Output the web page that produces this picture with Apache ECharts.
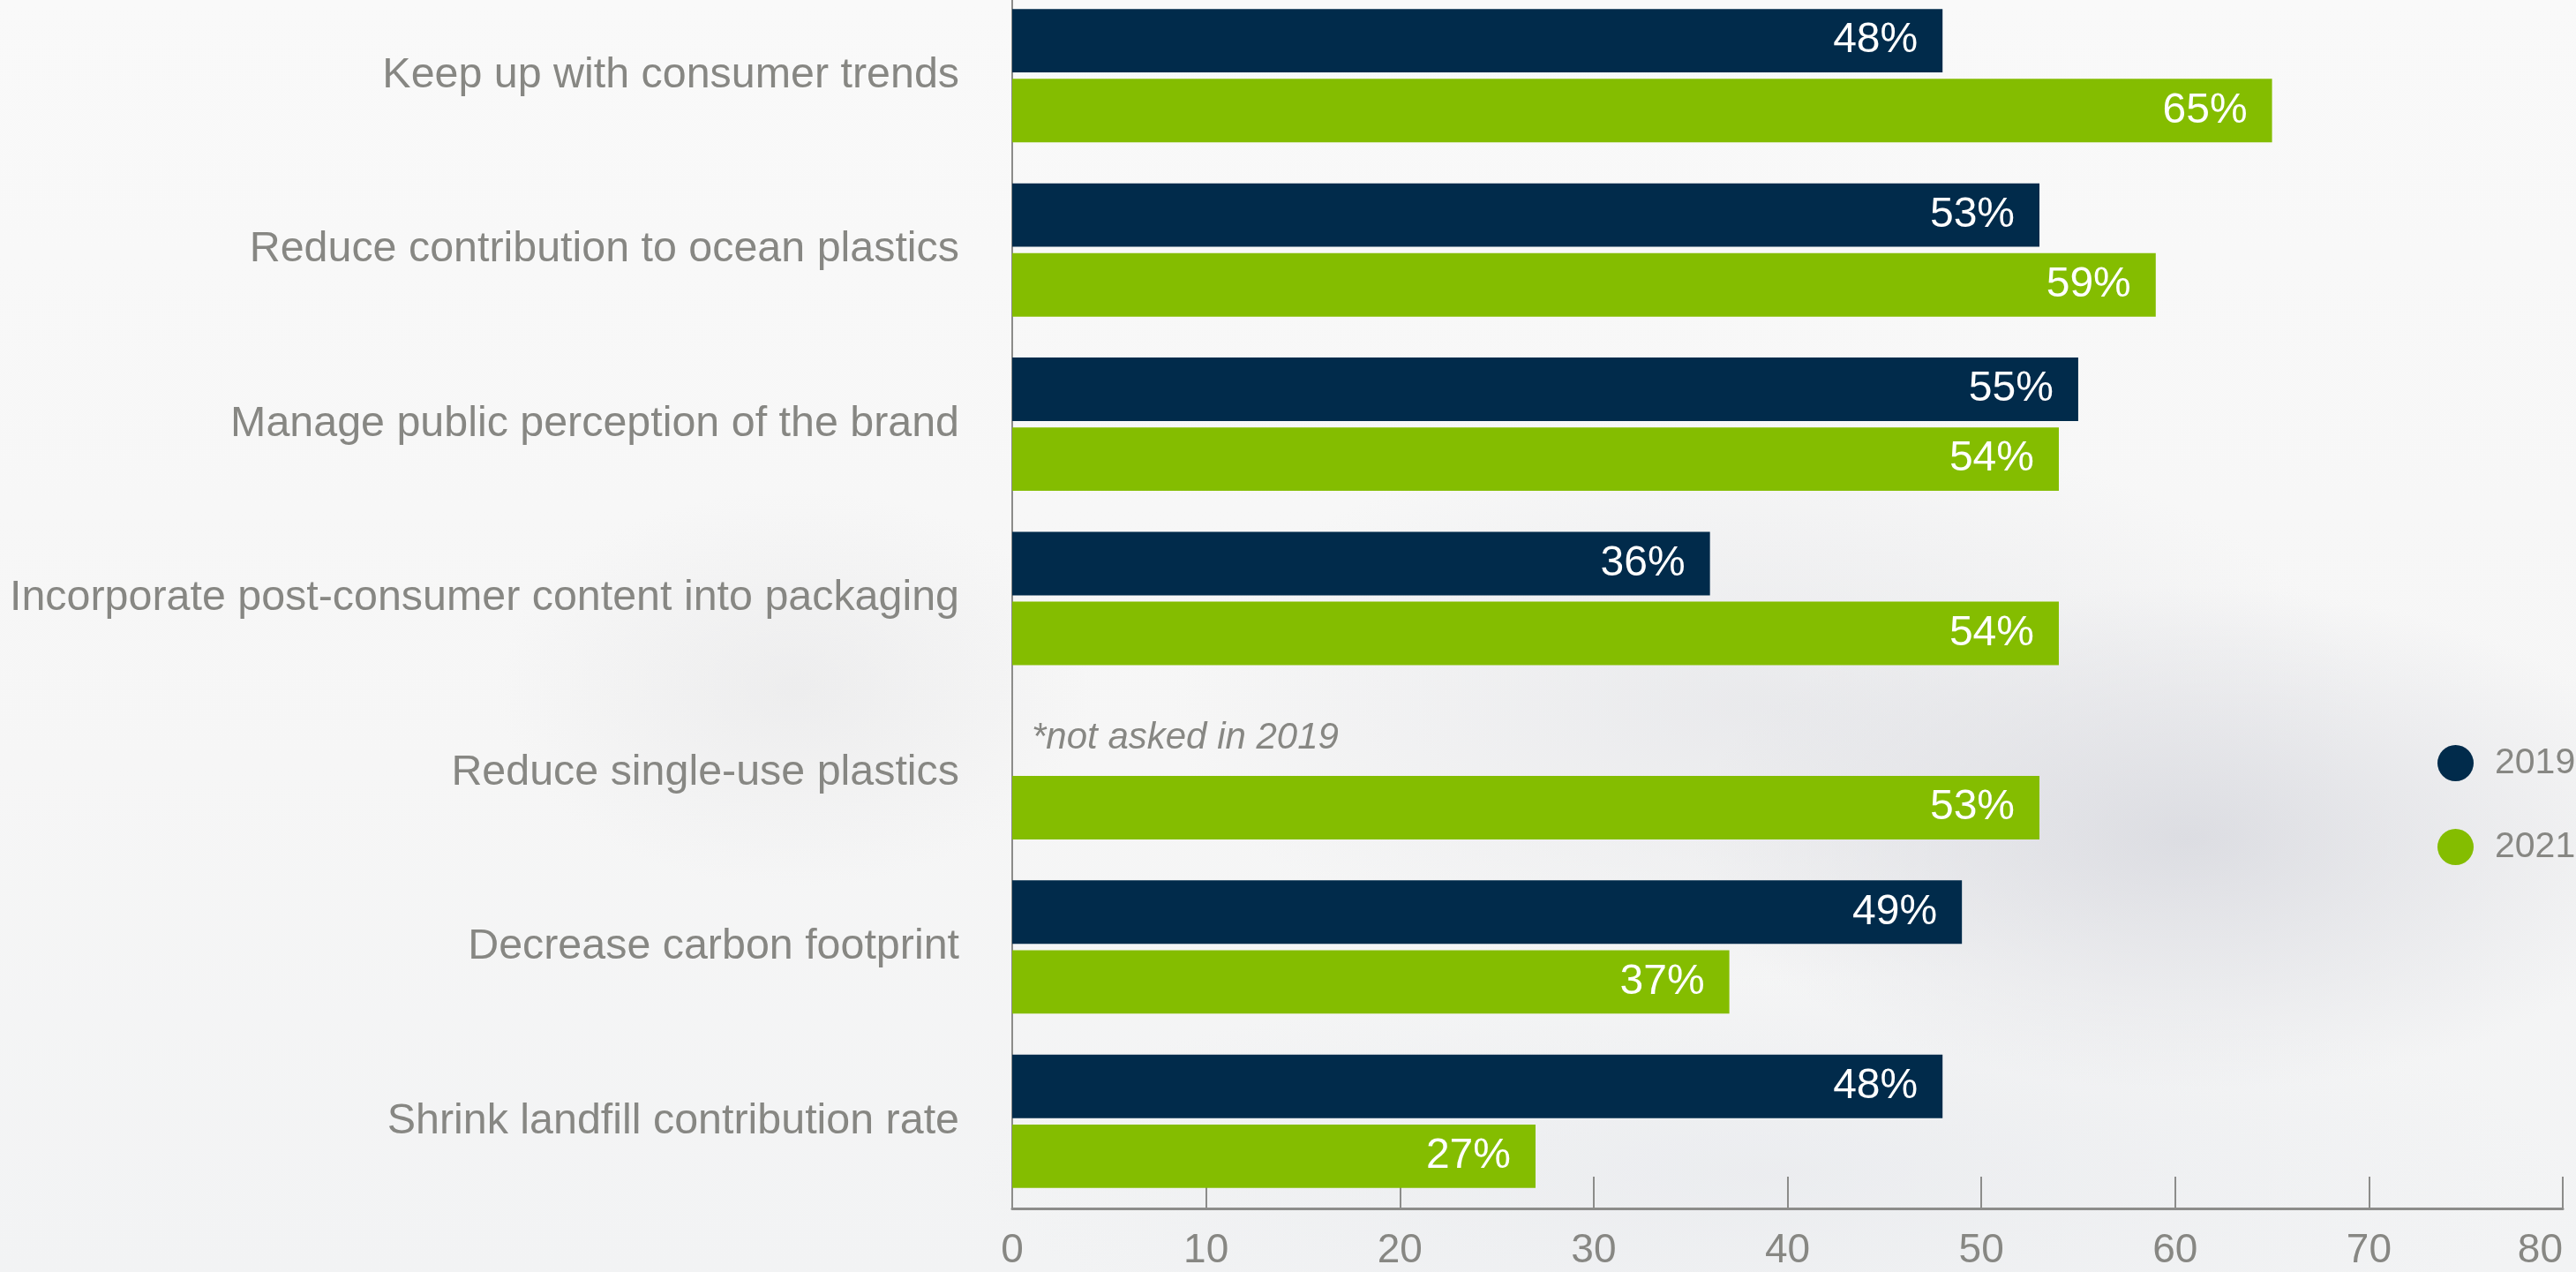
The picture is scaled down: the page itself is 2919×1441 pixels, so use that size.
<!DOCTYPE html>
<html>
<head>
<meta charset="utf-8">
<script src="https://cdn.jsdelivr.net/npm/echarts@6/dist/echarts.min.js"></script>
<style>
html,body{margin:0;padding:0;width:2919px;height:1441px;overflow:hidden;position:relative;}
body{background:
 radial-gradient(ellipse 750px 380px at 2480px 950px, rgba(216,217,223,0.85), rgba(216,217,223,0) 75%),
 radial-gradient(ellipse 900px 420px at 2000px 800px, rgba(224,225,229,0.6), rgba(224,225,229,0) 75%),
 radial-gradient(ellipse 450px 300px at 900px 780px, rgba(220,220,222,0.35), rgba(220,220,222,0) 75%),
 radial-gradient(ellipse 1200px 300px at 2000px 1330px, rgba(230,232,236,0.6), rgba(230,232,236,0) 75%),
 linear-gradient(180deg,#f9f9f9 0%,#f6f6f6 60%,#f2f3f4 100%);}
#chart{position:absolute;left:0;top:-13px;width:2919px;height:1454px;}
</style>
</head>
<body>
<div id="chart"></div>
<script>
const categories = [
  'Keep up with consumer trends',
  'Reduce contribution to ocean plastics',
  'Manage public perception of the brand',
  'Incorporate post-consumer content into packaging',
  'Reduce single-use plastics',
  'Decrease carbon footprint',
  'Shrink landfill contribution rate'
];
const values2019 = [48, 53, 55, 36, null, 49, 48];
const values2021 = [65, 59, 54, 54, 53, 37, 27];
const seriesNames = ['2019', '2021'];
const notAskedNote = '*not asked in 2019';
const xTicks = [0, 10, 20, 30, 40, 50, 60, 70, 80];

const FONT = '"Liberation Sans", Arial, Helvetica, sans-serif';
const GRAY = '#878783';

const data2019 = values2019.map(v => v === null
  ? { value: 0, label: { show: true, position: 'right', distance: 22, formatter: notAskedNote,
      color: GRAY, fontStyle: 'italic', fontSize: 42, fontFamily: FONT, padding: [6,0,0,0] } }
  : v);

const chart = echarts.init(document.getElementById('chart'));
chart.setOption({
  backgroundColor: 'transparent',
  animation: false,
  grid: { left: 1147, right: 15, top: 0, bottom: 72, containLabel: false },
  legend: {
    data: seriesNames,
    orient: 'vertical',
    left: 2757, top: 852,
    icon: 'circle',
    itemWidth: 41, itemHeight: 41, itemGap: 54,
    textStyle: { color: GRAY, fontSize: 41, fontFamily: FONT, padding: [0,0,0,19] }
  },
  xAxis: {
    type: 'value',
    min: xTicks[0], max: xTicks[xTicks.length - 1], interval: 10,
    splitLine: { show: false },
    axisLine: { show: true, lineStyle: { color: '#8c8c8a', width: 3 } },
    axisTick: { show: true, inside: true, length: 36, lineStyle: { color: '#8c8c8a', width: 2 } },
    axisLabel: { color: GRAY, fontSize: 46, fontFamily: FONT, margin: 25, alignMaxLabel: 'right' }
  },
  yAxis: {
    type: 'category',
    data: categories,
    inverse: true,
    axisLine: { show: true, lineStyle: { color: '#8c8c8a', width: 2 } },
    axisTick: { show: false },
    axisLabel: { color: GRAY, fontSize: 48.4, fontFamily: FONT, margin: 60 }
  },
  series: [
    {
      name: seriesNames[0], type: 'bar', data: data2019,
      itemStyle: { color: '#012b4b' },
      barGap: '10%', barCategoryGap: '23.5%',
      label: { show: true, position: 'insideRight', distance: 28, color: '#ffffff',
        fontSize: 48, fontFamily: FONT, padding: [6,0,0,0], formatter: p => p.value + '%' }
    },
    {
      name: seriesNames[1], type: 'bar', data: values2021,
      itemStyle: { color: '#84bd00' },
      barGap: '10%', barCategoryGap: '23.5%',
      label: { show: true, position: 'insideRight', distance: 28, color: '#ffffff',
        fontSize: 48, fontFamily: FONT, padding: [6,0,0,0], formatter: p => p.value + '%' }
    }
  ]
});
</script>
</body>
</html>
